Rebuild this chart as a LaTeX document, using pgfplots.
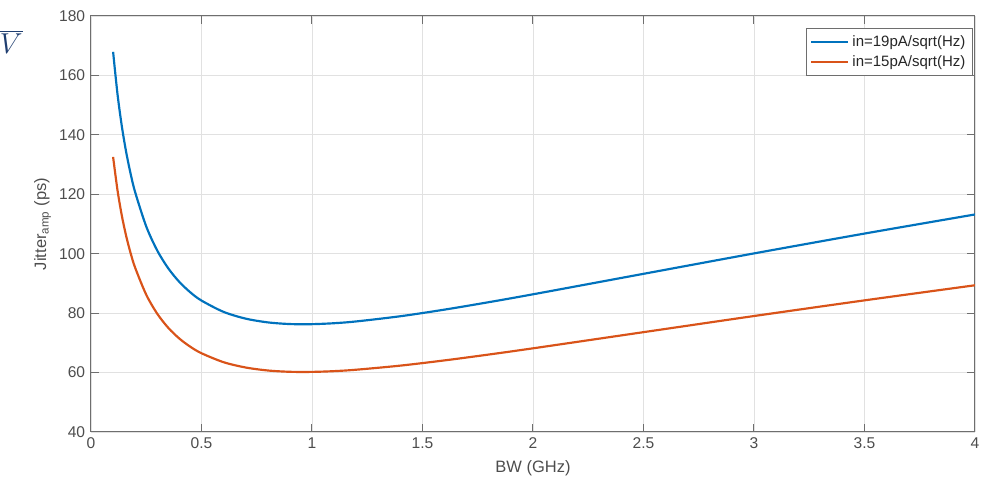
\documentclass[border=0pt]{standalone}
\usepackage{pgfplots}
\pgfplotsset{compat=1.18}
\usepackage{fontspec}
\setmainfont{Liberation Sans}
\definecolor{mblue}{rgb}{0,0.447,0.741}
\definecolor{morange}{rgb}{0.85,0.325,0.098}
\definecolor{tgray}{RGB}{77,77,77}
\definecolor{agray}{RGB}{110,110,110}
\definecolor{ggray}{RGB}{225,225,225}
\definecolor{vblue}{RGB}{31,62,112}
\begin{document}
\begin{tikzpicture}
\useasboundingbox (0,0) rectangle (589.8pt,289.2pt);
\node[anchor=east, text=vblue, font=\fontsize{17}{17}\selectfont, inner sep=0pt] at (13.8pt,264pt) {$\overline{V}$};
\begin{axis}[
  at={(54.6pt,30pt)}, anchor=south west,
  scale only axis, width=530.4pt, height=249.6pt,
  xmin=0, xmax=4, ymin=40, ymax=180,
  xtick={0,0.5,...,4}, ytick={40,60,...,180},
  xticklabels={0,0.5,1,1.5,2,2.5,3,3.5,4},
  grid=major, major grid style={ggray, line width=0.5pt},
  axis line style={agray, line width=0.6pt},
  tick style={agray, line width=0.6pt},
  major tick length=4.8pt,
  tick align=inside,
  xtick pos=both, ytick pos=both,
  /pgf/number format/assume math mode=true,
  tick label style={text=tgray, font=\fontsize{9.35}{11}\selectfont},
  label style={text=tgray, font=\fontsize{9.9}{12}\selectfont},
  xlabel={BW (GHz)},
  ylabel={Jitter\textsubscript{amp} (ps)},
  ylabel style={yshift=-2pt},
  legend style={at={(1,1)}, xshift=-1pt, yshift=-7.4pt, anchor=north east,
    draw=agray, line width=0.5pt, font=\fontsize{9}{10.5}\selectfont, text=black!85,
    inner xsep=2.5pt, inner ysep=2pt, row sep=0pt},
  legend cell align=left,
  legend image code/.code={\draw[#1, line width=1.2pt] (0pt,0pt) -- (22pt,0pt);},
]
\addplot[mblue, line width=1.3pt, smooth] coordinates {
(0.1,167.94) (0.12,153.67) (0.14,142.66) (0.16,133.87) (0.18,126.67) (0.2,120.65)
(0.25,109.17) (0.3,101.04) (0.35,95.04) (0.4,90.48) (0.45,86.97) (0.5,84.23)
(0.6,80.42) (0.7,78.15) (0.8,76.89) (0.9,76.33) (1.0,76.29) (1.1,76.61)
(1.2,77.21) (1.4,78.96) (1.6,81.19) (1.8,83.69) (2.0,86.34) (2.5,93.23)
(3.0,100.10) (3.5,106.78) (4.0,113.21)};
\addlegendentry{in=19pA/sqrt(Hz)}
\addplot[morange, line width=1.3pt, smooth] coordinates {
(0.1,132.58) (0.12,121.32) (0.14,112.63) (0.16,105.69) (0.18,100.00) (0.2,95.25)
(0.25,86.19) (0.3,79.77) (0.35,75.03) (0.4,71.43) (0.45,68.66) (0.5,66.50)
(0.6,63.49) (0.7,61.70) (0.8,60.70) (0.9,60.26) (1.0,60.23) (1.1,60.48)
(1.2,60.96) (1.4,62.34) (1.6,64.10) (1.8,66.07) (2.0,68.16) (2.5,73.60)
(3.0,79.03) (3.5,84.30) (4.0,89.38)};
\addlegendentry{in=15pA/sqrt(Hz)}
\end{axis}
\end{tikzpicture}
\end{document}
